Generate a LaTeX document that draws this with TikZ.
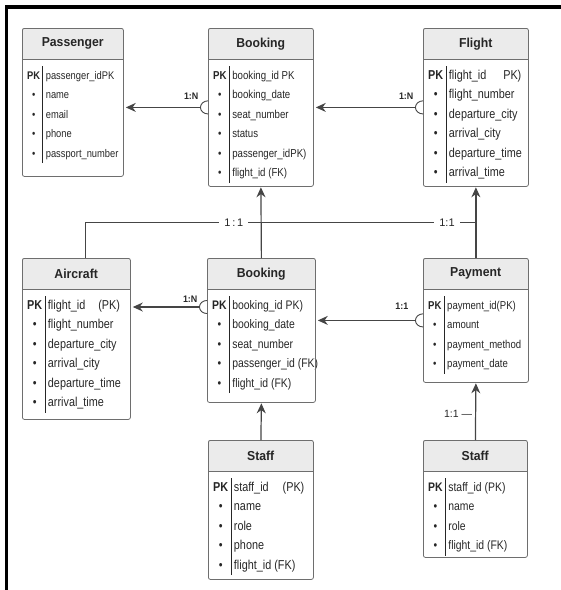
\documentclass[tikz,border=0pt]{standalone}
\usepackage{fontspec}
\setmainfont{Liberation Sans}
\newfontfamily\rowfont[FakeStretch=0.84]{Liberation Sans}
\newfontfamily\headfont[FakeStretch=0.94]{Liberation Sans}
\usepackage{xcolor}
\definecolor{headfill}{HTML}{EBEBEB}
\definecolor{boxline}{HTML}{6E6E6E}
\definecolor{linkline}{HTML}{454545}
\definecolor{textdark}{HTML}{262626}
\usetikzlibrary{arrows.meta, positioning, calc}

\tikzset{
  entbox/.style={draw=boxline, line width=0.8pt, rounded corners=2pt, inner sep=0pt},
  enthead/.style={fill=headfill, minimum height=31pt, inner sep=0pt, text=textdark,
                  font=\headfont\bfseries\fontsize{13}{15}\selectfont},
  entrows/.style={inner sep=0pt, text=textdark},
  link/.style={draw=linkline, line width=1.2pt},
  manyone/.style={link, {Arc Barb[reversed, length=8pt, width=14pt, line width=0.9pt]}-{Stealth[length=10pt, width=9pt]},
                  shorten >=2pt},
  onearrow/.style={link, -{Stealth[length=10pt, width=9pt]}, shorten >=0.5pt},
  card/.style={anchor=south east, inner sep=1pt, text=textdark,
               font=\headfont\bfseries\fontsize{9.5}{11}\selectfont},
  midlbl/.style={fill=white, inner xsep=5pt, inner ysep=1pt, text=textdark,
                 font=\fontsize{11}{13}\selectfont}
}

% one table: name, top left, width, height, title, font size, rows
\newcommand{\erentity}[7]{%
  \node[enthead, minimum width=#3, anchor=north west] (#1-head) at (#2) {#5};
  \draw[boxline, line width=0.8pt] (#1-head.south west) -- (#1-head.south east);
  \node[entrows, anchor=north west, font=\rowfont\fontsize{#6}{19.5}\selectfont] (#1-rows)
    at ([xshift=5pt, yshift=-6pt]#1-head.south west)
    {\begin{tabular}{@{}c@{\hspace{2.5pt}}|@{\hspace{3pt}}l@{}}#7\end{tabular}};
  \node[entbox, minimum width=#3, minimum height=#4, anchor=north west] (#1) at (#2) {};
}

\begin{document}
\begin{tikzpicture}[x=1pt, y=-1pt]
  \useasboundingbox (0,0) rectangle (561,590);
  \draw[line width=3.5pt] (6.5,590) -- (6.5,7) -- (561,7);

  % top row
  \erentity{pass}{22,28}{101pt}{148pt}{Passenger}{11.1}{%
    \textbf{PK} & passenger\_idPK \\ \textbullet & name \\ \textbullet & email \\
    \textbullet & phone \\ \textbullet & passport\_number}
  \erentity{book1}{208,28}{105pt}{158pt}{Booking}{11.5}{%
    \textbf{PK} & booking\_id PK \\ \textbullet & booking\_date \\ \textbullet & seat\_number \\
    \textbullet & status \\ \textbullet & passenger\_idPK) \\ \textbullet & flight\_id (FK)}
  \erentity{flight}{423,28}{105pt}{158pt}{Flight}{12.9}{%
    \textbf{PK} & flight\_id\hspace{17pt}PK) \\ \textbullet & flight\_number \\
    \textbullet & departure\_city \\ \textbullet & arrival\_city \\
    \textbullet & departure\_time \\ \textbullet & arrival\_time}

  % middle row
  \erentity{aircraft}{22,258}{108pt}{161pt}{Aircraft}{12.9}{%
    \textbf{PK} & flight\_id\hspace{13pt}(PK) \\ \textbullet & flight\_number \\
    \textbullet & departure\_city \\ \textbullet & arrival\_city \\
    \textbullet & departure\_time \\ \textbullet & arrival\_time}
  \erentity{book2}{207,258}{108pt}{144pt}{Booking}{12.4}{%
    \textbf{PK} & booking\_id PK) \\ \textbullet & booking\_date \\ \textbullet & seat\_number \\
    \textbullet & passenger\_id (FK) \\ \textbullet & flight\_id (FK)}
  \erentity{payment}{423,258}{105pt}{124pt}{Payment}{11.4}{%
    \textbf{PK} & payment\_id(PK) \\ \textbullet & amount \\ \textbullet & payment\_method \\
    \textbullet & payment\_date}

  % bottom row
  \erentity{staff1}{208,440}{105pt}{139pt}{Staff}{12.9}{%
    \textbf{PK} & staff\_id\hspace{14pt}(PK) \\ \textbullet & name \\ \textbullet & role \\
    \textbullet & phone \\ \textbullet & flight\_id (FK)}
  \erentity{staff2}{423,440}{104pt}{117pt}{Staff}{12.4}{%
    \textbf{PK} & staff\_id (PK) \\ \textbullet & name \\ \textbullet & role \\
    \textbullet & flight\_id (FK)}

  % relations
  \draw[manyone] (book1.west) -- (book1.west -| pass.east)
    node[card, at start, xshift=-8pt, yshift=6.5pt] {1:N};
  \draw[manyone] (flight.west) -- (flight.west -| book1.east)
    node[card, at start, xshift=-8pt, yshift=6.5pt] {1:N};
  \draw[manyone] ([yshift=-49pt]book2.north west) -- ([yshift=-49pt]book2.north west -| aircraft.east)
    node[card, at start, xshift=-8pt, yshift=3pt] {1:N};
  \draw[manyone] (payment.west) -- (payment.west -| book2.east)
    node[card, at start, xshift=-13pt, yshift=9.5pt] {1:1};

  \coordinate (junc) at ($(flight.south)!0.5!(payment.north)$);
  \draw[link] ([xshift=9pt]aircraft.north) |- (junc)
    node[midlbl, pos=0.69] {1\,:\,1}
    node[midlbl, pos=0.963] {1:1};
  \draw[onearrow] (book2.north) -- (book1.south);
  \draw[onearrow] (payment.north) -- (flight.south);
  \draw[onearrow] (staff1.north) -- (book2.south);
  \draw[onearrow] (staff2.north) -- (payment.south)
    node[left, pos=0.45, inner sep=3pt, text=textdark, font=\fontsize{10.5}{12}\selectfont] {1:1 —};
\end{tikzpicture}
\end{document}
